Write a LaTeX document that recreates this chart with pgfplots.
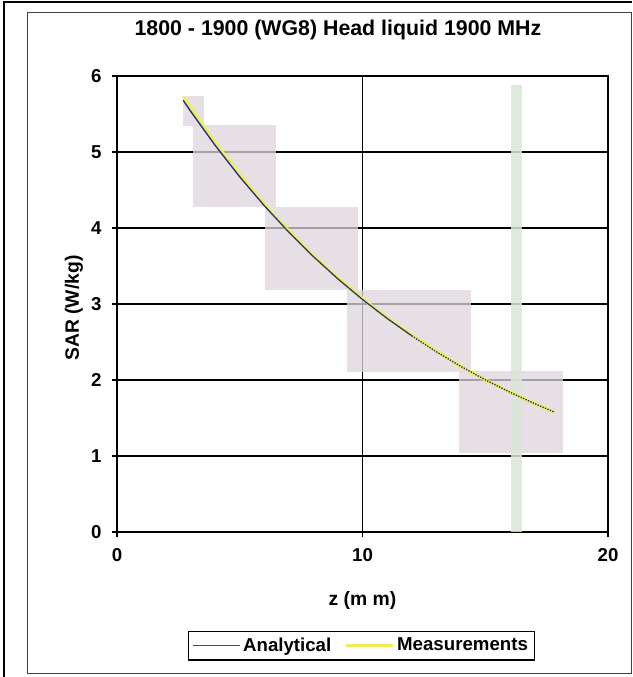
\documentclass[border=0pt]{standalone}
\usepackage{pgfplots}
\pgfplotsset{compat=1.18}
\usepackage{fontspec}
\setmainfont{Liberation Sans}

\definecolor{boxgray}{RGB}{221,213,222}
\definecolor{bandgreen}{RGB}{216,230,212}
\definecolor{analytic}{RGB}{45,75,150}
\definecolor{meas}{RGB}{240,236,90}

\begin{document}
\begin{tikzpicture}
  \path[use as bounding box] (0,0) rectangle (474pt,507.75pt);
  % chart frames
  \draw[line width=1.4pt] (3pt,0) -- (3pt,506.25pt) -- (474pt,506.25pt);
  \draw[line width=0.7pt, black!75] (20.25pt,3pt) rectangle (473.25pt,498.75pt);

  \begin{axis}[
      at={(87.75pt,108.75pt)}, anchor=south west,
      scale only axis, width=368.25pt, height=342pt,
      xmin=0, xmax=20, ymin=0, ymax=6,
      clip=false,
      xtick={0,10,20}, ytick={0,1,...,6},
      grid=major,
      major grid style={black, line width=1.2pt},
      axis line style={black, line width=1.3pt},
      tick style={black, line width=1pt},
      tick align=outside, major tick length=4pt,
      xtick pos=left, ytick pos=left,
      /pgf/number format/assume math mode=true,
      ticklabel style={font=\fontsize{14}{16}\selectfont\bfseries},
      xticklabel style={yshift=-5pt},
      yticklabel style={anchor=east, xshift=-4pt},
      title={1800 - 1900 (WG8) Head liquid 1900 MHz},
      title style={at={(axis description cs:0.45,1.083)}, anchor=center,
                   font=\fontsize{16}{19}\selectfont\bfseries},
      xlabel={z (m m)},
      xlabel style={at={(axis description cs:0.5,-0.151)}, anchor=center,
                    font=\fontsize{14.5}{17}\selectfont\bfseries},
      legend columns=2,
      legend style={at={(0.498,-0.249)}, anchor=center,
                    draw=black, line width=0.8pt, fill=white,
                    font=\fontsize{14}{16}\selectfont\bfseries,
                    inner xsep=3pt, inner ysep=3pt,
                    /tikz/every even column/.append style={column sep=8pt}},
      legend image code/.code={\draw[#1] (0pt,0pt) -- (35pt,0pt);},
    ]
    % shaded boxes
    \addplot[fill=boxgray, draw=none, fill opacity=0.75, forget plot]
      coordinates {(2.68,5.34) (3.54,5.34) (3.54,5.74) (2.68,5.74)} -- cycle;
    \addplot[fill=boxgray, draw=none, fill opacity=0.75, forget plot]
      coordinates {(3.08,4.27) (6.48,4.27) (6.48,5.35) (3.08,5.35)} -- cycle;
    \addplot[fill=boxgray, draw=none, fill opacity=0.75, forget plot]
      coordinates {(6.03,3.18) (9.82,3.18) (9.82,4.27) (6.03,4.27)} -- cycle;
    \addplot[fill=boxgray, draw=none, fill opacity=0.75, forget plot]
      coordinates {(9.37,2.10) (14.42,2.10) (14.42,3.19) (9.37,3.19)} -- cycle;
    \addplot[fill=boxgray, draw=none, fill opacity=0.75, forget plot]
      coordinates {(13.93,1.04) (18.17,1.04) (18.17,2.12) (13.93,2.12)} -- cycle;
    % green band
    \addplot[fill=bandgreen, draw=none, fill opacity=0.85, forget plot]
      coordinates {(16.05,0) (16.50,0) (16.50,5.88) (16.05,5.88)} -- cycle;

    % curves
    \addplot[analytic, line width=1pt, no marks] coordinates {
      (2.7,5.680) (3,5.537) (4,5.088) (5,4.674) (6,4.294) (7,3.945)
      (8,3.624) (9,3.330) (10,3.060) (11,2.811) (12,2.583) (13,2.373)
      (14,2.180) (15,2.003) (16,1.840) (17,1.691) (17.8,1.580)};
    \addlegendentry{Analytical}
    \addplot[meas, line width=2.4pt, no marks] coordinates {
      (2.7,5.72) (3,5.58) (4,5.12) (5,4.70) (6,4.31) (7,3.96)
      (8,3.63) (9,3.34) (10,3.07) (11,2.82) (12,2.59) (13,2.38)
      (14,2.18) (15,2.00) (16,1.84) (17,1.69) (17.8,1.58)};
    \addlegendentry{Measurements}
    % analytical line redrawn over the yellow one
    \addplot[analytic!70!black, line width=0.9pt, no marks, forget plot] coordinates {
      (2.7,5.680) (3,5.537) (4,5.088) (5,4.674) (6,4.294) (7,3.945)
      (8,3.624) (9,3.330) (10,3.060) (11,2.811) (12,2.583)};
    \addplot[analytic!70!black, line width=1pt, densely dotted, no marks, forget plot] coordinates {
      (12,2.583) (13,2.373) (14,2.180) (15,2.003) (16,1.840) (17,1.691) (17.8,1.580)};

    \node[rotate=90, anchor=center, font=\fontsize{14.5}{17}\selectfont\bfseries]
      at (rel axis cs:-0.0876,0.491) {SAR (W/kg)};
  \end{axis}
\end{tikzpicture}
\end{document}
